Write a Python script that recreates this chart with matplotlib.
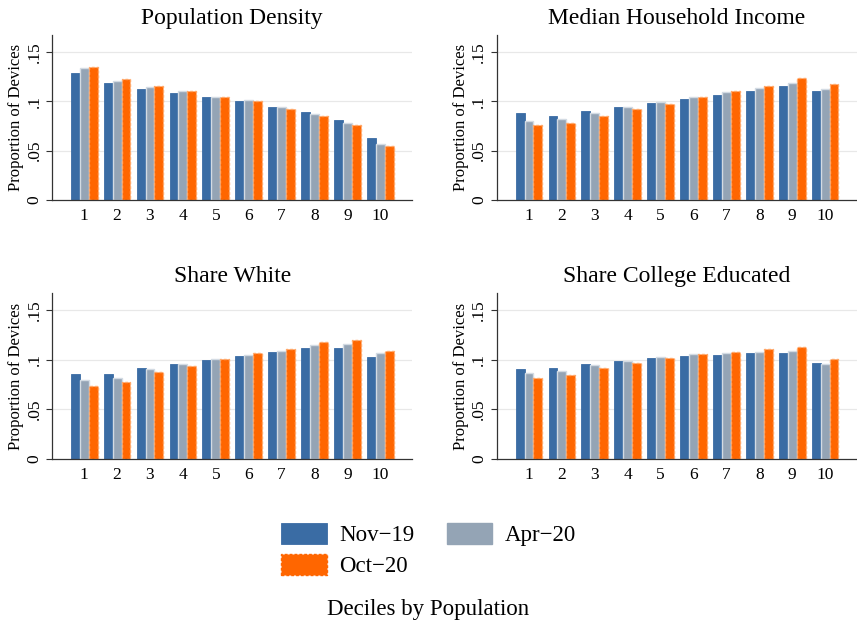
import numpy as np
import matplotlib
matplotlib.use("Agg")
import matplotlib.pyplot as plt
from matplotlib.patches import Patch

plt.rcParams['font.family'] = ['Liberation Serif', 'DejaVu Serif']

deciles = list(range(1, 11))
titles = ["Population Density", "Median Household Income",
          "Share White", "Share College Educated"]
series_names = ["Nov\u221219", "Apr\u221220", "Oct\u221220"]

# proportion of devices per decile, one list per period
density_nov19 = [0.129, 0.118, 0.1125, 0.1085, 0.104, 0.1007, 0.094, 0.089, 0.081, 0.063]
density_apr20 = [0.134, 0.120, 0.114, 0.110, 0.104, 0.101, 0.094, 0.087, 0.078, 0.057]
density_oct20 = [0.135, 0.122, 0.115, 0.110, 0.104, 0.0997, 0.092, 0.085, 0.076, 0.055]

income_nov19 = [0.088, 0.085, 0.090, 0.094, 0.098, 0.102, 0.106, 0.110, 0.1155, 0.110]
income_apr20 = [0.080, 0.082, 0.088, 0.094, 0.099, 0.104, 0.109, 0.113, 0.118, 0.112]
income_oct20 = [0.076, 0.078, 0.085, 0.092, 0.097, 0.104, 0.110, 0.115, 0.123, 0.117]

white_nov19 = [0.085, 0.085, 0.092, 0.096, 0.100, 0.104, 0.1076, 0.112, 0.112, 0.103]
white_apr20 = [0.079, 0.0815, 0.090, 0.0958, 0.1005, 0.1046, 0.109, 0.115, 0.116, 0.1066]
white_oct20 = [0.073, 0.0775, 0.0873, 0.0934, 0.101, 0.1066, 0.111, 0.1175, 0.1195, 0.109]

college_nov19 = [0.090, 0.091, 0.096, 0.099, 0.102, 0.104, 0.105, 0.107, 0.107, 0.097]
college_apr20 = [0.0863, 0.088, 0.095, 0.0988, 0.1025, 0.1056, 0.1066, 0.108, 0.109, 0.0958]
college_oct20 = [0.0816, 0.0843, 0.0917, 0.0968, 0.102, 0.106, 0.108, 0.111, 0.1127, 0.101]

panels = [
    (density_nov19, density_apr20, density_oct20),
    (income_nov19, income_apr20, income_oct20),
    (white_nov19, white_apr20, white_oct20),
    (college_nov19, college_apr20, college_oct20),
]

# bar styles (Stata-like)
c_blue = "#3a6ca4"
c_gray = "#94a4b5"
c_orange = "#ff6600"
styles = [
    dict(color=c_blue, edgecolor=c_blue, linewidth=0.6),
    dict(color=c_gray, edgecolor="#d3dbe3", linewidth=1.0),
    dict(color=c_orange, edgecolor="#ffa868", linewidth=1.0, linestyle=(0, (2, 1.5))),
]

fig = plt.figure(figsize=(8.57, 6.25), dpi=100)

# axes boxes in figure fraction: left, bottom, width, height
boxes = [
    [0.061, 0.680, 0.420, 0.264],
    [0.580, 0.680, 0.420, 0.264],
    [0.061, 0.266, 0.420, 0.265],
    [0.580, 0.266, 0.420, 0.265],
]

x = np.array(deciles)
w = 0.27
offsets = [-w, 0, w]

for box, title, data in zip(boxes, titles, panels):
    ax = fig.add_axes(box)
    for vals, off, st in zip(data, offsets, styles):
        ax.bar(x + off, vals, width=w, zorder=3, **st)
    ax.set_xlim(0.03, 10.97)
    ax.set_ylim(0, 0.167)
    ax.set_yticks([0, 0.05, 0.1, 0.15])
    ax.set_yticklabels(["0", ".05", ".1", ".15"], rotation=90, va="center")
    ax.set_xticks(deciles)
    ax.tick_params(axis="x", length=0, labelsize=12.5, pad=6)
    ax.tick_params(axis="y", length=4, width=0.8, color="#333333", labelsize=12.5, pad=3)
    for yv in [0.05, 0.1, 0.15]:
        ax.axhline(yv, color="#e8e8e8", linewidth=0.9, zorder=1)
    ax.spines["top"].set_visible(False)
    ax.spines["right"].set_visible(False)
    for s in ["left", "bottom"]:
        ax.spines[s].set_color("#333333")
        ax.spines[s].set_linewidth(0.9)
    ax.spines["bottom"].set_zorder(4)
    ax.set_ylabel("Proportion of Devices", fontsize=12, labelpad=2)
    ax.set_title(title, fontsize=17, pad=8)

# legend: row-major order Nov-19, Apr-20 / Oct-20
handles = [Patch(**styles[0]), Patch(**styles[1]), Patch(**styles[2])]
order = [0, 2, 1]
fig.legend([handles[i] for i in order], [series_names[i] for i in order],
           loc="center", bbox_to_anchor=(0.5, 0.12), ncol=2, frameon=False,
           fontsize=16.5, handlelength=2.0, handleheight=1.05,
           handletextpad=0.55, columnspacing=1.4, labelspacing=0.35)

fig.text(0.5, 0.024, "Deciles by Population", ha="center", va="center", fontsize=16.5)

fig.savefig("out.png", dpi=100)
